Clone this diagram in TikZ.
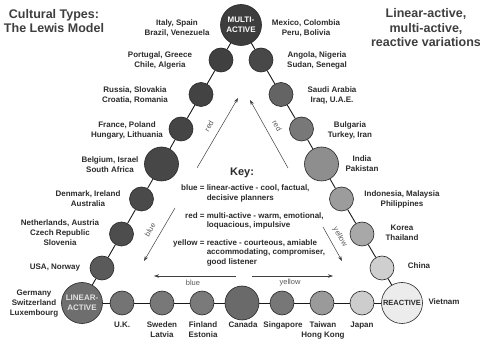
\documentclass[tikz,border=0pt]{standalone}
\usepackage{fontspec}
\setmainfont{Liberation Sans}
\usetikzlibrary{arrows.meta}
\definecolor{txt}{HTML}{2B2B2B}
\definecolor{ttl}{HTML}{3F3F3F}
\tikzset{
 ball/.style={circle, draw=black!85, line width=0.6pt, inner sep=0pt, minimum size=24pt},
 bigball/.style={ball, minimum size=41pt, font=\bfseries\fontsize{8}{10}\selectfont, align=center},
 midball/.style={ball, minimum size=34pt},
 lbl/.style={font=\bfseries\fontsize{8}{10}\selectfont, text=txt, align=center, inner sep=0pt},
 ttlstyle/.style={font=\bfseries\fontsize{12.5}{14.5}\selectfont, text=ttl, align=center, inner sep=0pt},
 conn/.style={line width=0.9pt, draw=black!90},
 karrow/.style={line width=0.5pt, draw=black!75, -{Stealth[length=5pt,width=3.5pt]}},
 alab/.style={font=\fontsize{7.5}{9}\selectfont, text=black!65, inner sep=0pt},
}
\begin{document}
\begin{tikzpicture}[x=1pt,y=-1pt]
\useasboundingbox[fill=white] (0,0) rectangle (480,339);

% titles
\node[ttlstyle] (t1) at (54,21) {Cultural Types:\\The Lewis Model};
\node[ttlstyle] (t2) at (426,28) {Linear-active,\\multi-active,\\reactive variations};

% main nodes
\node[bigball, fill={rgb,255:red,61;green,61;blue,61}, text=white] (multi) at (241,25) {MULTI-\\ACTIVE};
\node[bigball, fill={rgb,255:red,110;green,110;blue,110}, text={rgb,255:red,225;green,225;blue,225}] (linear) at (82,303) {LINEAR-\\ACTIVE};
\node[bigball, fill={rgb,255:red,236;green,236;blue,236}, text=txt, font=\bfseries\fontsize{7.5}{9}\selectfont] (reactive) at (402,303) {REACTIVE};

% left side
\node[ball, fill={rgb,255:red,64;green,64;blue,64}] (l1) at (221,60) {};
\node[ball, fill={rgb,255:red,67;green,67;blue,67}] (l2) at (201,94.5) {};
\node[ball, fill={rgb,255:red,69;green,69;blue,69}] (l3) at (181,129) {};
\node[midball, fill={rgb,255:red,71;green,71;blue,71}] (l4) at (161.5,164) {};
\node[ball, fill={rgb,255:red,74;green,74;blue,74}] (l5) at (141.5,199) {};
\node[ball, fill={rgb,255:red,77;green,77;blue,77}] (l6) at (121.5,234) {};
\node[ball, fill={rgb,255:red,90;green,90;blue,90}] (l7) at (102,268) {};

% right side
\node[ball, fill={rgb,255:red,72;green,72;blue,72}] (r1) at (261,60) {};
\node[ball, fill={rgb,255:red,100;green,100;blue,100}] (r2) at (281,94.5) {};
\node[ball, fill={rgb,255:red,120;green,120;blue,120}] (r3) at (301.5,129) {};
\node[midball, fill={rgb,255:red,142;green,142;blue,142}] (r4) at (321.5,164) {};
\node[ball, fill={rgb,255:red,156;green,156;blue,156}] (r5) at (341.5,199) {};
\node[ball, fill={rgb,255:red,168;green,168;blue,168}] (r6) at (362,234) {};
\node[ball, fill={rgb,255:red,207;green,207;blue,207}] (r7) at (382,268) {};

% bottom
\node[ball, fill={rgb,255:red,116;green,116;blue,116}] (b1) at (122,303) {};
\node[ball, fill={rgb,255:red,120;green,120;blue,120}] (b2) at (162,303) {};
\node[ball, fill={rgb,255:red,122;green,122;blue,122}] (b3) at (202,303) {};
\node[midball, fill={rgb,255:red,106;green,106;blue,106}] (b4) at (242,303) {};
\node[ball, fill={rgb,255:red,119;green,119;blue,119}] (b5) at (282,303) {};
\node[ball, fill={rgb,255:red,154;green,154;blue,154}] (b6) at (322,303) {};
\node[ball, fill={rgb,255:red,205;green,205;blue,205}] (b7) at (362,303) {};

% connectors
\draw[conn] (multi) -- (l1) -- (l2) -- (l3) -- (l4) -- (l5) -- (l6) -- (l7) -- (linear);
\draw[conn] (multi) -- (r1) -- (r2) -- (r3) -- (r4) -- (r5) -- (r6) -- (r7) -- (reactive);
\draw[conn] (linear) -- (b1) -- (b2) -- (b3) -- (b4) -- (b5) -- (b6) -- (b7) -- (reactive);

% country labels
\node[lbl] (c1) at (177,28) {Italy, Spain\\Brazil, Venezuela};
\node[lbl] (c2) at (160,60) {Portugal, Greece\\Chile, Algeria};
\node[lbl] (c3) at (135,95) {Russia, Slovakia\\Croatia, Romania};
\node[lbl] (c4) at (127,130) {France, Poland\\Hungary, Lithuania};
\node[lbl] (c5) at (110,165) {Belgium, Israel\\South Africa};
\node[lbl] (c6) at (88,199) {Denmark, Ireland\\Australia};
\node[lbl] (c7) at (60,233) {Netherlands, Austria\\Czech Republic\\Slovenia};
\node[lbl] (c8) at (55,268) {USA, Norway};
\node[lbl] (c9) at (34,304) {Germany\\Switzerland\\Luxembourg};

\node[lbl, anchor=north] (d1) at (122,322) {U.K.};
\node[lbl, anchor=north] (d2) at (162,322) {Sweden\\Latvia};
\node[lbl, anchor=north] (d3) at (203,322) {Finland\\Estonia};
\node[lbl, anchor=north] (d4) at (243,322) {Canada};
\node[lbl, anchor=north] (d5) at (283,322) {Singapore};
\node[lbl, anchor=north] (d6) at (323,322) {Taiwan\\Hong Kong};
\node[lbl, anchor=north] (d7) at (362,322) {Japan};

\node[lbl] (e1) at (306,28) {Mexico, Colombia\\Peru, Bolivia};
\node[lbl] (e2) at (317,60) {Angola, Nigeria\\Sudan, Senegal};
\node[lbl] (e3) at (332,95) {Saudi Arabia\\Iraq, U.A.E.};
\node[lbl] (e4) at (350,130) {Bulgaria\\Turkey, Iran};
\node[lbl] (e5) at (362,164) {India\\Pakistan};
\node[lbl] (e6) at (402,199) {Indonesia, Malaysia\\Philippines};
\node[lbl] (e7) at (402,233) {Korea\\Thailand};
\node[lbl] (e8) at (419,266) {China};
\node[lbl] (e9) at (444,302) {Vietnam};

% key
\node[font=\bfseries\fontsize{11}{13}\selectfont, text=txt, inner sep=0pt] (keyt) at (242,173) {Key:};
\node[anchor=north west, inner sep=0pt, font=\bfseries\fontsize{8}{9.5}\selectfont, text=txt] (keytab) at (173,184)
 {\begin{tabular}{@{}r@{\ }l@{}}blue = & linear-active - cool, factual,\\ & decisive planners\\[8.5pt]
 red = & multi-active - warm, emotional,\\ & loquacious, impulsive\\[8pt]
 yellow = & reactive - courteous, amiable\\ & accommodating, compromiser,\\ & good listener\end{tabular}};

% arrows
\coordinate (a1s) at (197,168); \coordinate (a1e) at (238,98);
\coordinate (a2s) at (288,168); \coordinate (a2e) at (250,100);
\coordinate (a3s) at (175,208); \coordinate (a3e) at (144,261);
\coordinate (a4s) at (323,227); \coordinate (a4e) at (342,261);
\coordinate (a5s) at (236,276); \coordinate (a5e) at (154,276);
\coordinate (a6s) at (252,276); \coordinate (a6e) at (333,276);
\draw[karrow] (a1s) -- (a1e);
\draw[karrow] (a2s) -- (a2e);
\draw[karrow] (a3s) -- (a3e);
\draw[karrow] (a4s) -- (a4e);
\draw[karrow] (a5s) -- (a5e);
\draw[karrow] (a6s) -- (a6e);
\node[alab, rotate=60] (n1) at (209,126) {red};
\node[alab, rotate=-60] (n2) at (277,126) {red};
\node[alab, rotate=60] (n3) at (150,230) {blue};
\node[alab, rotate=-60] (n4) at (340,237) {yellow};
\node[alab] (n5) at (193,283) {blue};
\node[alab] (n6) at (290,283) {yellow};
\end{tikzpicture}
\end{document}
